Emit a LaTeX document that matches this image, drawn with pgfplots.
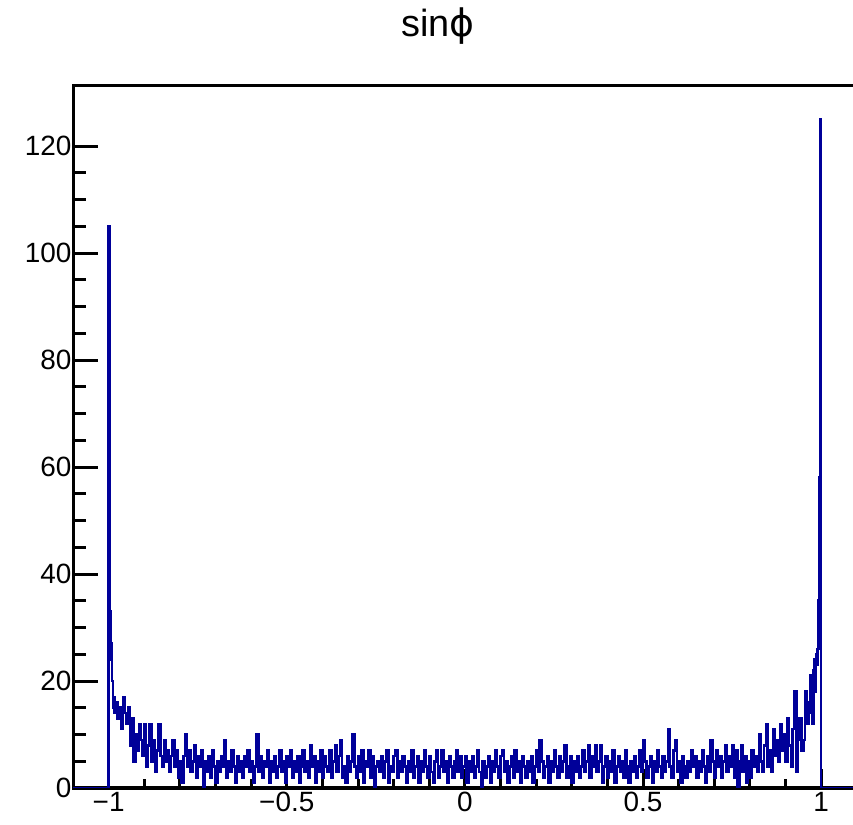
\documentclass[border=0pt]{standalone}
\usepackage{fontspec}
\setmainfont{Liberation Sans}
\newfontfamily\dejavu{DejaVu Sans}
\usepackage{pgfplots}
\pgfplotsset{compat=1.18}
\definecolor{rootblue}{RGB}{0,0,153}

\begin{document}
\begin{tikzpicture}
\begin{axis}[
  at={(73bp,37bp)}, anchor=south west,
  width=782bp, height=702bp, scale only axis,
  xmin=-1.1, xmax=1.095, ymin=0, ymax=131.25,
  axis line style={line width=3bp},
  tick style={line width=3bp, black},
  tick align=inside,
  xtick pos=left, ytick pos=left,
  xtick={-1,-0.5,0,0.5,1},
  xticklabels={−1,−0.5,0,0.5,1},
  ytick={0,20,40,60,80,100,120},
  yticklabels={0,20,40,60,80,100,120},
  minor x tick num=4, minor y tick num=3,
  major tick length=25bp, minor tick length=12.5bp,
  xtick style={/pgfplots/major tick length=19bp, /pgfplots/minor tick length=9.5bp},
  ticklabel style={font=\fontsize{28}{28}\selectfont},
  xticklabel style={yshift=-1bp},
  yticklabel style={xshift=2bp},
  clip=true,
]
\addplot[const plot, rootblue, line width=2.6bp] coordinates {
(-1.1,0) (-1.000,105) (-0.998,37) (-0.996,33) (-0.994,27) (-0.992,24) (-0.990,20) (-0.988,15) (-0.986,17) (-0.984,14) (-0.982,16)
(-0.980,16) (-0.975,13) (-0.970,15) (-0.965,11) (-0.960,17) (-0.955,14) (-0.950,12) (-0.945,15) (-0.940,8) (-0.935,13)
(-0.930,5) (-0.925,10) (-0.920,7) (-0.915,12) (-0.910,9) (-0.905,6) (-0.900,12) (-0.895,4) (-0.890,8) (-0.885,12)
(-0.880,5) (-0.875,9) (-0.870,3) (-0.865,7) (-0.860,12) (-0.855,6) (-0.850,4) (-0.845,9) (-0.840,5) (-0.835,7)
(-0.830,3) (-0.825,6) (-0.820,9) (-0.815,4) (-0.810,7) (-0.805,2) (-0.800,5) (-0.795,1) (-0.790,6) (-0.785,10)
(-0.780,4) (-0.775,7) (-0.770,3) (-0.765,5) (-0.760,8) (-0.755,2) (-0.750,6) (-0.745,4) (-0.740,7) (-0.735,0)
(-0.730,5) (-0.725,3) (-0.720,6) (-0.715,2) (-0.710,7) (-0.705,4) (-0.700,1) (-0.695,5) (-0.690,3) (-0.685,6)
(-0.680,4) (-0.675,9) (-0.670,2) (-0.665,5) (-0.660,3) (-0.655,7) (-0.650,4) (-0.645,1) (-0.640,6) (-0.635,3)
(-0.630,5) (-0.625,2) (-0.620,6) (-0.615,4) (-0.610,7) (-0.605,3) (-0.600,5) (-0.595,1) (-0.590,4) (-0.585,10)
(-0.580,3) (-0.575,6) (-0.570,2) (-0.565,5) (-0.560,4) (-0.555,7) (-0.550,1) (-0.545,5) (-0.540,3) (-0.535,6)
(-0.530,2) (-0.525,4) (-0.520,7) (-0.515,3) (-0.510,5) (-0.505,1) (-0.500,6) (-0.495,4) (-0.490,7) (-0.485,2)
(-0.480,5) (-0.475,3) (-0.470,6) (-0.465,1) (-0.460,4) (-0.455,7) (-0.450,3) (-0.445,5) (-0.440,2) (-0.435,8)
(-0.430,4) (-0.425,6) (-0.420,1) (-0.415,5) (-0.410,3) (-0.405,7) (-0.400,2) (-0.395,6) (-0.390,4) (-0.385,3)
(-0.380,7) (-0.375,2) (-0.370,5) (-0.365,8) (-0.360,3) (-0.355,6) (-0.350,9) (-0.345,2) (-0.340,4) (-0.335,1)
(-0.330,6) (-0.325,3) (-0.320,5) (-0.315,10) (-0.310,4) (-0.305,2) (-0.300,6) (-0.295,3) (-0.290,7) (-0.285,1)
(-0.280,5) (-0.275,4) (-0.270,7) (-0.265,2) (-0.260,6) (-0.255,0) (-0.250,4) (-0.245,5) (-0.240,3) (-0.235,6)
(-0.230,2) (-0.225,5) (-0.220,7) (-0.215,1) (-0.210,4) (-0.205,3) (-0.200,6) (-0.195,7) (-0.190,2) (-0.185,5)
(-0.180,3) (-0.175,6) (-0.170,4) (-0.165,1) (-0.160,5) (-0.155,3) (-0.150,7) (-0.145,2) (-0.140,4) (-0.135,6)
(-0.130,1) (-0.125,5) (-0.120,3) (-0.115,7) (-0.110,4) (-0.105,2) (-0.100,6) (-0.095,3) (-0.090,1) (-0.085,5)
(-0.080,7) (-0.075,2) (-0.070,4) (-0.065,7) (-0.060,3) (-0.055,5) (-0.050,1) (-0.045,6) (-0.040,4) (-0.035,2)
(-0.030,5) (-0.025,7) (-0.020,3) (-0.015,6) (-0.010,2) (-0.005,4) (0.000,6) (0.005,1) (0.010,5) (0.015,3)
(0.020,6) (0.025,2) (0.030,4) (0.035,7) (0.040,3) (0.045,0) (0.050,5) (0.055,2) (0.060,4) (0.065,6)
(0.070,1) (0.075,5) (0.080,3) (0.085,7) (0.090,4) (0.095,2) (0.100,6) (0.105,7) (0.110,3) (0.115,5)
(0.120,1) (0.125,4) (0.130,6) (0.135,2) (0.140,7) (0.145,3) (0.150,5) (0.155,1) (0.160,6) (0.165,4)
(0.170,2) (0.175,5) (0.180,3) (0.185,6) (0.190,1) (0.195,4) (0.200,7) (0.205,3) (0.210,9) (0.215,5)
(0.220,2) (0.225,4) (0.230,6) (0.235,1) (0.240,5) (0.245,3) (0.250,7) (0.255,4) (0.260,2) (0.265,6)
(0.270,3) (0.275,5) (0.280,8) (0.285,2) (0.290,4) (0.295,6) (0.300,1) (0.305,5) (0.310,3) (0.315,6)
(0.320,2) (0.325,4) (0.330,7) (0.335,3) (0.340,5) (0.345,8) (0.350,2) (0.355,6) (0.360,4) (0.365,8)
(0.370,3) (0.375,5) (0.380,8) (0.385,1) (0.390,4) (0.395,6) (0.400,2) (0.405,5) (0.410,3) (0.415,7)
(0.420,1) (0.425,4) (0.430,6) (0.435,3) (0.440,5) (0.445,2) (0.450,7) (0.455,4) (0.460,1) (0.465,5)
(0.470,3) (0.475,6) (0.480,2) (0.485,4) (0.490,7) (0.495,3) (0.500,9) (0.505,5) (0.510,2) (0.515,4)
(0.520,6) (0.525,1) (0.530,5) (0.535,3) (0.540,7) (0.545,4) (0.550,2) (0.555,6) (0.560,3) (0.565,5)
(0.570,11) (0.575,4) (0.580,2) (0.585,7) (0.590,9) (0.595,3) (0.600,5) (0.605,1) (0.610,6) (0.615,4)
(0.620,2) (0.625,5) (0.630,3) (0.635,7) (0.640,4) (0.645,6) (0.650,2) (0.655,5) (0.660,3) (0.665,7)
(0.670,4) (0.675,1) (0.680,6) (0.685,3) (0.690,9) (0.695,5) (0.700,2) (0.705,7) (0.710,4) (0.715,6)
(0.720,2) (0.725,5) (0.730,8) (0.735,3) (0.740,6) (0.745,4) (0.750,8) (0.755,2) (0.760,7) (0.765,0)
(0.770,5) (0.775,8) (0.780,3) (0.785,6) (0.790,1) (0.795,5) (0.800,2) (0.805,7) (0.810,4) (0.815,6)
(0.820,3) (0.825,10) (0.830,5) (0.835,3) (0.840,8) (0.845,12) (0.850,4) (0.855,7) (0.860,3) (0.865,11)
(0.870,6) (0.875,9) (0.880,5) (0.885,12) (0.890,7) (0.895,10) (0.900,5) (0.905,13) (0.910,8) (0.915,4)
(0.920,11) (0.925,18) (0.930,3) (0.935,9) (0.940,13) (0.945,7) (0.950,9) (0.955,18) (0.960,12) (0.965,16)
(0.970,21) (0.972,14) (0.974,19) (0.976,12) (0.978,22) (0.980,18) (0.982,24) (0.984,18) (0.986,25) (0.988,23)
(0.990,26) (0.992,35) (0.994,43) (0.996,58) (0.998,125) (1.000,0) (1.095,0)
};
\end{axis}
\node[anchor=base, font=\fontsize{38}{38}\selectfont] at (438bp, 788bp) {sin{\dejavu ϕ}};
\pgfresetboundingbox
\useasboundingbox (0,0) rectangle (853bp,825bp);
\end{tikzpicture}
\end{document}
